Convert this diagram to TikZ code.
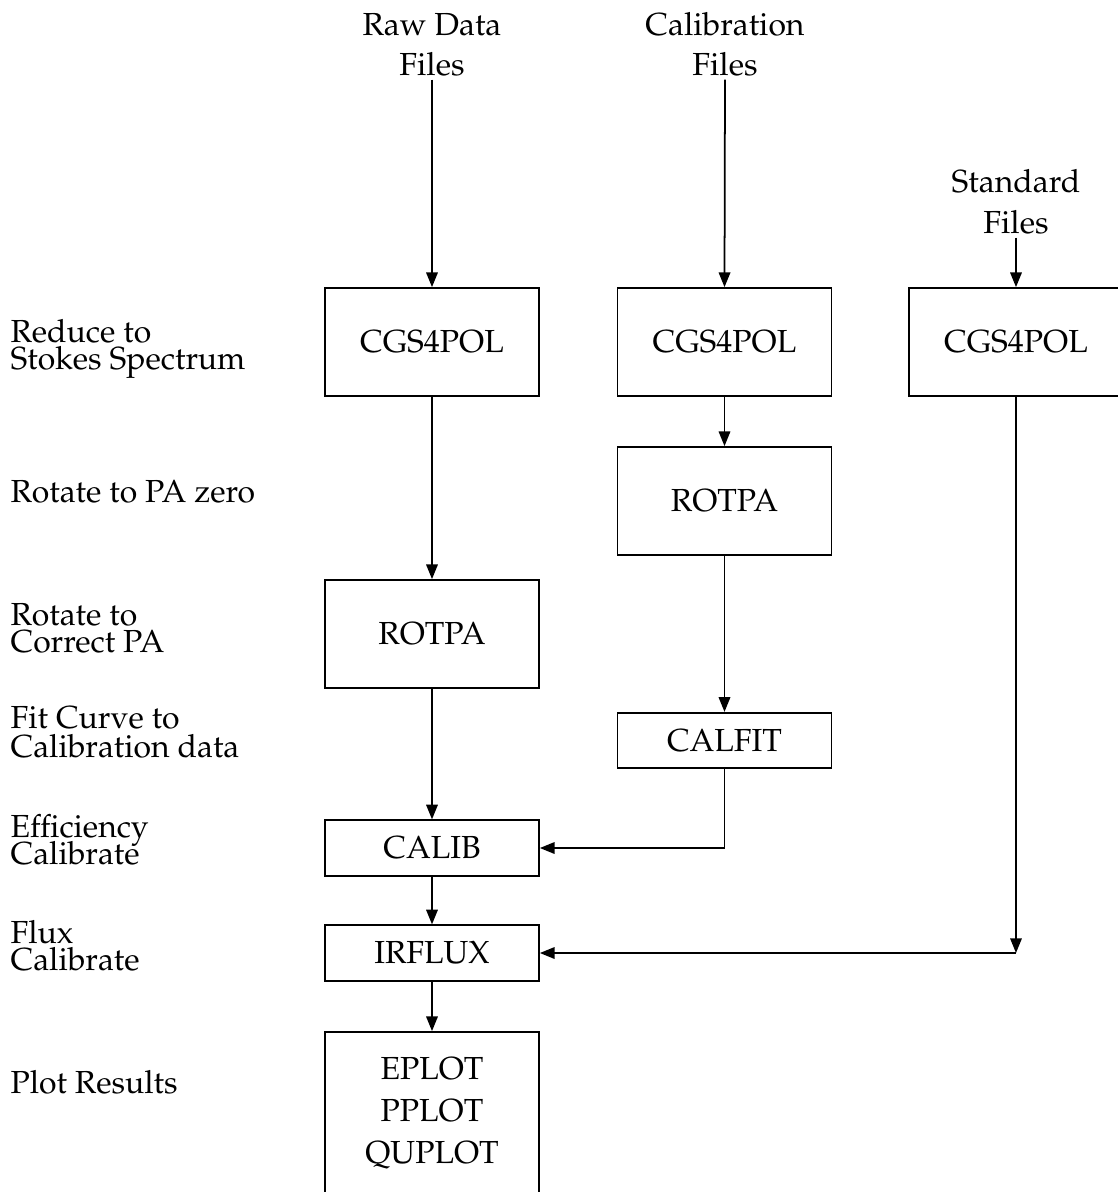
\documentclass[tikz,border=0pt]{standalone}
\usepackage[T1]{fontenc}
\renewcommand{\rmdefault}{ppl}
\usetikzlibrary{arrows.meta}
\begin{document}
\begin{tikzpicture}[x=0.3134pt,y=-0.3134pt,
  every node/.style={font=\fontsize{10}{12.5}\selectfont},
  lbl/.style={inner sep=0pt,anchor=base west},
  ttl/.style={inner sep=0pt,anchor=base},
  prog/.style={draw,line width=0.55pt,minimum width=214*0.3134pt,inner sep=0pt,align=center},
  tall/.style={prog,minimum height=108*0.3134pt},
  short/.style={prog,minimum height=55.5*0.3134pt},
  conn/.style={line width=0.55pt,-{Triangle[length=4.6pt,width=3.6pt]}},
  plain/.style={line width=0.55pt}]
\useasboundingbox (0,0) rectangle (1118,1192);
% top labels
\node[ttl] (raw1) at (432,35) {Raw Data};
\node[ttl] (raw2) at (432,75) {Files};
\node[ttl] (cal1) at (725,35) {Calibration};
\node[ttl] (cal2) at (725,75) {Files};
\node[ttl] (std1) at (1016,192) {Standard};
\node[ttl] (std2) at (1016,233) {Files};
% boxes
\node[tall] (c1) at (432,342) {CGS4POL};
\node[tall] (c2) at (724.5,342) {CGS4POL};
\node[tall] (c3) at (1016,342) {CGS4POL};
\node[tall] (r2) at (724.5,501) {ROTPA};
\node[tall] (r1) at (432,634) {ROTPA};
\node[short] (cf) at (724.5,740.5) {CALFIT};
\node[short] (cb) at (432,848) {CALIB};
\node[short] (ir) at (432,953) {IRFLUX};
\node[prog,minimum height=162*0.3134pt,font=\fontsize{10}{13.2}\selectfont] (ep) at (432,1113) {EPLOT\\PPLOT\\QUPLOT};
% left labels
\node[lbl] (l1a) at (10,342) {Reduce to};
\node[lbl] (l1b) at (10,369) {Stokes Spectrum};
\node[lbl] (l2) at (10,502) {Rotate to PA zero};
\node[lbl] (l3a) at (10,625) {Rotate to};
\node[lbl] (l3b) at (10,652) {Correct PA};
\node[lbl] (l4a) at (10,728) {Fit Curve to};
\node[lbl] (l4b) at (10,757) {Calibration data};
\node[lbl] (l5a) at (10,837) {Efficiency};
\node[lbl] (l5b) at (10,864) {Calibrate};
\node[lbl] (l6a) at (10,943) {Flux};
\node[lbl] (l6b) at (10,970) {Calibrate};
\node[lbl] (l7) at (10,1093) {Plot Results};
% connectors
\draw[conn] ([yshift=-1pt]raw2.south) -- (c1.north);
\draw[conn] ([yshift=-1pt]cal2.south) -- (c2.north);
\draw[conn] ([yshift=-1pt]std2.south) -- (c3.north);
\draw[conn] (c1) -- (r1);
\draw[conn] (c2) -- (r2);
\draw[conn] (r2) -- (cf);
\draw[conn] (r1) -- (cb);
\draw[conn] (cb) -- (ir);
\draw[conn] (ir) -- (ep);
\draw[conn] (cf.south) |- (cb.east);
\coordinate (k) at (c3.south |- ir.east);
\draw[conn] (c3.south) -- (k);
\draw[conn] (k) -- (ir.east);
\end{tikzpicture}
\end{document}
